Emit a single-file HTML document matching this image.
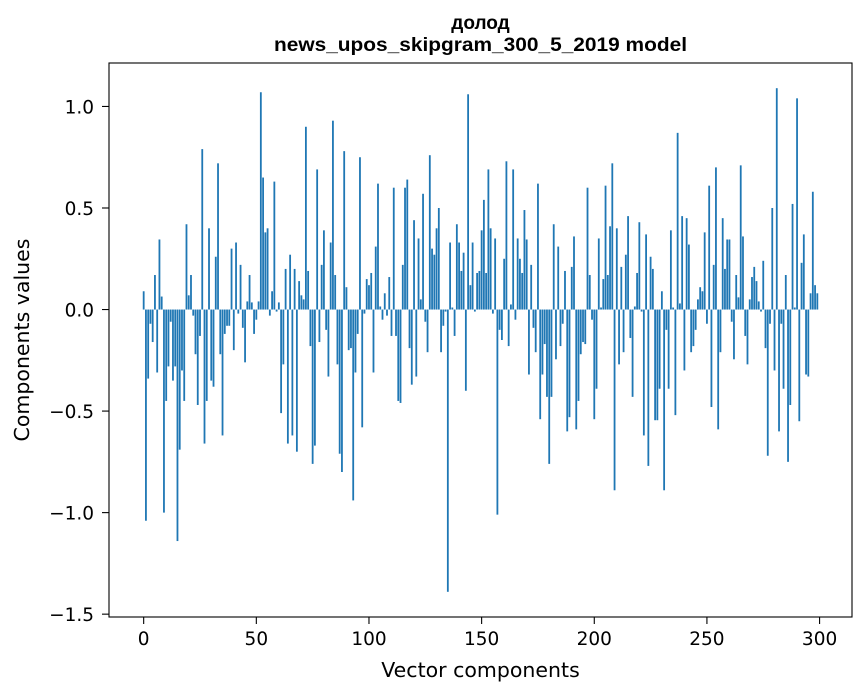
<!DOCTYPE html>
<html><head><meta charset="utf-8"><style>
html,body{margin:0;padding:0;background:#fff;}
svg{display:block;font-family:"DejaVu Sans",sans-serif;}
</style></head><body>
<svg id="chart" width="867" height="696" viewBox="0 0 867 696">
<text x="480.5" y="29" text-anchor="middle" font-size="19" font-weight="bold" font-family="Liberation Sans, sans-serif">долод</text>
<text x="480.5" y="51" text-anchor="middle" font-size="19" font-weight="bold" font-family="Liberation Sans, sans-serif" textLength="413" lengthAdjust="spacingAndGlyphs">news_upos_skipgram_300_5_2019 model</text>
<g id="bars"></g>
<rect x="109" y="63" width="743" height="554" fill="none" stroke="#000" stroke-width="1.1"/>
<g id="xticks"></g>
<g id="yticks"></g>
<text x="480.5" y="677" text-anchor="middle" font-size="20.5">Vector components</text>
<text transform="translate(29,340) rotate(-90)" text-anchor="middle" font-size="20.5">Components values</text>
</svg>
<script>
const values = [
0.09,-1.04,-0.34,-0.07,-0.16,0.17,-0.31,0.345,0.064,-1.0,
-0.45,-0.28,-0.06,-0.35,-0.28,-1.14,-0.69,-0.30,-0.45,0.42,
0.07,0.17,-0.03,-0.22,-0.47,-0.13,0.79,-0.66,-0.45,0.40,
-0.35,-0.38,0.26,0.72,-0.22,-0.62,-0.12,-0.08,-0.08,0.30,
-0.20,0.33,-0.02,0.22,-0.09,-0.26,0.04,0.17,0.035,-0.12,
-0.05,0.04,1.07,0.65,0.38,0.40,-0.03,0.09,0.63,-0.01,
0.035,-0.51,-0.27,0.20,-0.66,0.27,-0.62,0.20,-0.70,0.14,
0.07,0.05,0.90,0.19,-0.18,-0.76,-0.67,0.69,-0.16,0.22,
0.39,-0.10,-0.33,0.33,0.93,0.17,-0.27,-0.71,-0.80,0.78,
0.11,-0.20,-0.19,-0.94,-0.31,-0.12,0.75,-0.58,-0.02,0.15,
0.12,0.18,-0.31,0.31,0.62,0.015,-0.05,0.08,-0.03,0.16,
-0.13,0.60,-0.13,-0.45,-0.46,0.22,0.60,0.64,-0.19,-0.37,
0.44,-0.33,0.35,0.05,0.57,-0.06,-0.21,0.76,0.30,0.27,
0.40,0.50,-0.21,-0.08,-0.01,-1.39,0.33,0.01,-0.13,0.42,
0.33,0.19,0.28,-0.40,1.06,0.12,0.33,-0.01,0.18,0.19,
0.39,0.54,0.18,0.69,0.40,-0.02,0.35,-1.01,-0.10,-0.15,
0.25,0.73,-0.18,0.025,0.69,-0.05,0.35,0.25,0.18,0.49,
0.345,-0.32,0.22,-0.09,-0.21,0.62,-0.54,-0.32,-0.17,-0.43,
-0.76,-0.43,0.42,-0.245,0.31,-0.18,-0.07,0.19,-0.60,-0.53,
0.21,0.36,-0.59,-0.45,-0.22,-0.16,-0.17,0.60,0.17,-0.05,
-0.54,-0.39,0.35,0.01,0.15,0.61,0.17,0.41,0.72,-0.89,
0.40,-0.27,0.21,-0.21,0.27,0.46,-0.14,-0.43,0.015,0.18,
0.43,-0.01,-0.62,0.37,-0.77,0.26,0.20,-0.545,-0.545,-0.39,
0.09,-0.89,-0.10,-0.39,0.39,0.01,-0.52,0.87,0.03,0.46,
-0.30,0.45,0.32,-0.21,-0.18,-0.10,0.05,0.11,0.09,0.38,
-0.07,0.61,-0.48,0.22,0.70,-0.59,-0.21,0.45,0.20,0.345,
0.345,-0.06,-0.245,0.17,0.06,0.71,0.36,-0.13,-0.27,0.05,
0.16,0.21,0.14,0.04,-0.01,0.24,-0.19,-0.72,-0.07,0.50,
-0.30,1.09,-0.60,-0.07,-0.39,0.17,-0.75,-0.47,0.52,0.01,
1.04,-0.55,0.23,0.37,-0.32,-0.33,0.08,0.58,0.12,0.08
];
const xTickValues = [0,50,100,150,200,250,300];
const yTickValues = [1.0,0.5,0.0,-0.5,-1.0,-1.5];
const yTickLabels = ["1.0","0.5","0.0","\u22120.5","\u22121.0","\u22121.5"];

const NS = "http://www.w3.org/2000/svg";
const L = 109, R = 852, T = 63, B = 617;
const bw = 0.8;
const dxMin = -bw/2, dxMax = values.length - 1 + bw/2;
const xPad = (dxMax - dxMin) * 0.05;
const xMin = dxMin - xPad, xMax = dxMax + xPad;
const vMin = Math.min(0, ...values), vMax = Math.max(0, ...values);
const yPad = (vMax - vMin) * 0.05;
const yMin = vMin - yPad, yMax = vMax + yPad;
function xs(v){ return L + (v - xMin) / (xMax - xMin) * (R - L); }
function ys(v){ return B - (v - yMin) / (yMax - yMin) * (B - T); }

const barsG = document.getElementById('bars');
values.forEach((v, i) => {
  const r = document.createElementNS(NS, 'rect');
  const x0 = xs(i - bw/2), x1 = xs(i + bw/2);
  const y0 = ys(Math.max(v, 0)), y1 = ys(Math.min(v, 0));
  r.setAttribute('x', x0);
  r.setAttribute('y', y0);
  r.setAttribute('width', x1 - x0);
  r.setAttribute('height', Math.max(y1 - y0, 0.3));
  r.setAttribute('fill', '#1f77b4');
  
  
  barsG.appendChild(r);
});

const xg = document.getElementById('xticks');
xTickValues.forEach(t => {
  const x = xs(t);
  const ln = document.createElementNS(NS, 'line');
  ln.setAttribute('x1', x); ln.setAttribute('x2', x);
  ln.setAttribute('y1', B); ln.setAttribute('y2', B + 7);
  ln.setAttribute('stroke', '#000'); ln.setAttribute('stroke-width', '1.1');
  
  
  xg.appendChild(ln);
  const tx = document.createElementNS(NS, 'text');
  tx.setAttribute('x', x); tx.setAttribute('y', B + 28);
  tx.setAttribute('text-anchor', 'middle'); tx.setAttribute('font-size', '18.5');
  tx.textContent = String(t);
  
  
  xg.appendChild(tx);
});

const yg = document.getElementById('yticks');
yTickValues.forEach((t, k) => {
  const y = ys(t);
  const ln = document.createElementNS(NS, 'line');
  ln.setAttribute('x1', L - 7); ln.setAttribute('x2', L);
  ln.setAttribute('y1', y); ln.setAttribute('y2', y);
  ln.setAttribute('stroke', '#000'); ln.setAttribute('stroke-width', '1.1');
  
  
  yg.appendChild(ln);
  const tx = document.createElementNS(NS, 'text');
  tx.setAttribute('x', L - 15); tx.setAttribute('y', y + 7);
  tx.setAttribute('text-anchor', 'end'); tx.setAttribute('font-size', '18.5');
  tx.textContent = yTickLabels[k];
  
  
  yg.appendChild(tx);
});
</script>
</body></html>
